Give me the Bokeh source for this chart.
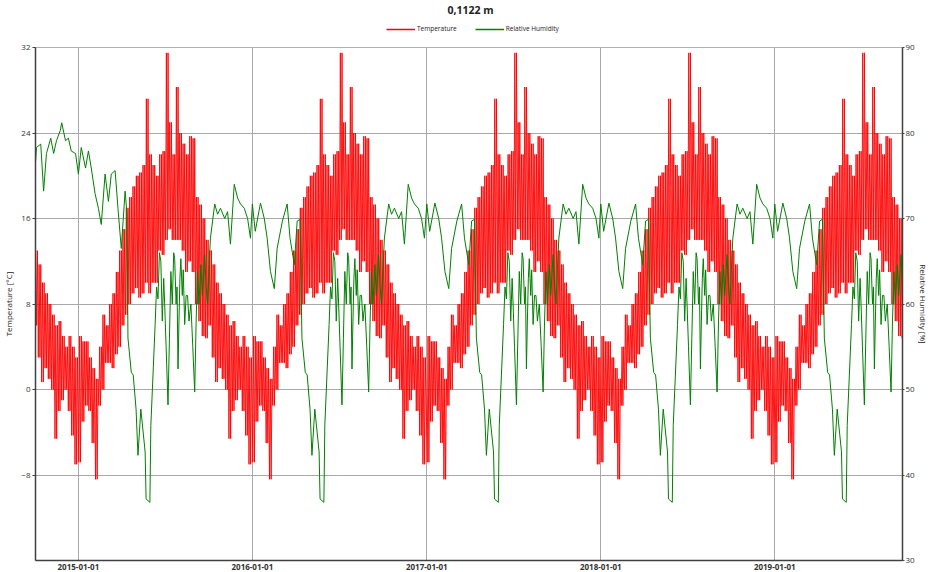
import datetime as dt
from bokeh.plotting import figure
from bokeh.layouts import column
from bokeh.models import (Range1d, LinearAxis, FixedTicker, DatetimeTickFormatter,
                          Legend, LegendItem)
from bokeh.embed import file_html
from bokeh.resources import INLINE

chart_title = "0,1122 m"
series_names = ["Temperature", "Relative Humidity"]
series_colors = ["#ff0000", "#008000"]
x_start = dt.datetime(2014, 10, 3)
x_end = dt.datetime(2019, 9, 26)
tick_years = [2015, 2016, 2017, 2018, 2019]
temp_ticks = [-8, 0, 8, 16, 24, 32]
rh_ticks = [30, 40, 50, 60, 70, 80, 90]

# weekly low / high temperature envelope (deg C) read from one repeating year
temp_week_lo = [-6.8, -3, -1.5, -2, -5, -8.4, -1.5, 0, 2.5, 2.5, 2, 3.3, 4,
                6, 7, 8, 9, 9.5, 8.6, 9, 10, 9, 10, 10, 13, 12.6,
                14, 15, 14, 14, 14, 13, 11, 12, 11, 8, 6.4, 5, 4.8,
                6, 3, 0.7, 2, 1, 0, -4.6, -2, -1, 0, -2, -4.3, -7]
temp_week_hi = [5, 4.5, 4.5, 3, 2, 1, 4, 7, 6, 8, 9, 11, 13,
                15, 17, 18, 19, 20, 20.3, 21, 27.2, 22, 21, 20, 22, 22.3,
                31.5, 25, 22, 28.3, 24, 23, 22, 23.7, 23.5, 18, 17.3, 16, 14,
                13, 11.7, 10, 9, 8, 7, 6, 6.4, 5, 4, 5, 4, 3]

# relative humidity (%) for one repeating year: day of year, value
rh_profile_day = [0, 6, 17, 25, 31, 38, 46, 52, 63, 73, 79, 88, 94, 100,
                  104, 111, 115, 121, 125, 131, 140, 142, 150, 152, 161, 164,
                  167, 170, 173, 176, 179, 181, 184, 188, 191, 194, 197, 200,
                  202, 205, 207, 209, 211, 213, 215, 218, 220, 223, 226, 229,
                  232, 236, 240, 244, 247, 250, 253, 257, 260, 265, 268, 271,
                  274, 277, 286, 292, 298, 307, 313, 319, 327, 334, 340, 348,
                  355, 361]
rh_profile_val = [71.7, 68.5, 71.8, 70, 67.7, 63.8, 61.8, 66.5, 69.7, 71.7,
                  67.7, 64.6, 69.7, 69.9, 56, 52, 51.7, 47.7, 42.3, 47.7, 42.7,
                  37.2, 36.8, 45.8, 57.6, 62, 60.6, 66, 65, 58, 63, 60, 55,
                  48.2, 56, 63.8, 60, 66, 65.3, 60, 62, 52.4, 58, 63, 65.3, 61,
                  64, 57.6, 61, 61, 58, 60, 55, 49.7, 58, 63.8, 60, 64.6, 61,
                  65.8, 62, 60, 64, 67.7, 71.7, 70.5, 71.2, 70, 70.8, 67, 74,
                  72.4, 71.7, 71.2, 70, 67.7]

# relative humidity at the start of the record: days from 2015-01-01, value
rh_start_day = [-90, -88, -79, -73, -67, -58, -52, -46, -38, -35, -27, -21,
                -15, -6, 0, 6, 15, 21, 27, 35, 42, 48, 56, 63, 69, 77, 83, 90,
                98, 102]
rh_start_val = [76.5, 78.3, 78.7, 73.2, 77.6, 79.4, 77.6, 79.1, 80.3, 81.2,
                79.1, 79.4, 77.9, 77.6, 75.2, 78.3, 75.9, 77.9, 75.9, 72.9,
                71.2, 69.3, 75.2, 72, 75.2, 75.6, 71.2, 66.5, 73.2, 70.5]

# ---- assemble series: the weekly low/high envelope is drawn as a
# ---- fast oscillation between the read low and high of each week
t_x, t_y = [], []
for year in range(2014, 2020):
    base = dt.datetime(year, 1, 1)
    for i in range(len(temp_week_lo)):
        lo, hi = temp_week_lo[i], temp_week_hi[i]
        for off, v in ((0.9, lo), (2.6, hi), (4.4, lo), (6.1, hi)):
            t = base + dt.timedelta(days=7 * i + off)
            if x_start <= t <= x_end:
                t_x.append(t)
                t_y.append(v)

h_x, h_y = [], []
b15 = dt.datetime(2015, 1, 1)
for d, v in zip(rh_start_day, rh_start_val):
    h_x.append(b15 + dt.timedelta(days=d))
    h_y.append(v)
for year in range(2015, 2020):
    base = dt.datetime(year, 1, 1)
    for d, v in zip(rh_profile_day, rh_profile_val):
        if year == 2015 and d < 104:
            continue
        t = base + dt.timedelta(days=d)
        if t <= x_end:
            h_x.append(t)
            h_y.append(v)

FONT = "Open Sans"
W = 931

# ---- header: title + legend (its frame is aligned with the main frame) ----
hdr = figure(width=W, height=38, output_backend="svg", toolbar_location=None,
             x_range=Range1d(0, 1), y_range=Range1d(0, 1),
             x_axis_location=None, y_axis_location=None,
             min_border_left=0, min_border_right=0, min_border_top=9,
             min_border_bottom=0)
hdr.grid.visible = False
hdr.outline_line_color = None
hdr.title.text = chart_title
hdr.title.align = "left"
hdr.title.offset = 412
hdr.title.standoff = 0
hdr.title.text_font = FONT
hdr.title.text_font_size = "10.5px"
hdr.title.text_font_style = "bold"
hdr.title.text_color = "#222222"
lr_t = hdr.line([-2, -1], [-2, -2], color=series_colors[0], line_width=1.5)
lr_h = hdr.line([-2, -1], [-2, -2], color=series_colors[1], line_width=1.5)
legend = Legend(items=[LegendItem(label=series_names[0], renderers=[lr_t]),
                       LegendItem(label=series_names[1], renderers=[lr_h])],
                orientation="horizontal", location=(351, 5),
                label_text_font=FONT, label_text_font_size="6.5px",
                label_text_color="#222222", glyph_width=29, glyph_height=8,
                label_height=8, label_standoff=2, spacing=18, padding=0,
                margin=0, border_line_color=None, background_fill_alpha=0)
hdr.add_layout(legend)

# ---- main plot ----
p = figure(width=W, height=534, x_axis_type="datetime",
           x_range=Range1d(x_start, x_end), y_range=Range1d(-16, 32),
           output_backend="svg", toolbar_location=None,
           min_border_left=0, min_border_right=0, min_border_top=9,
           min_border_bottom=0, background_fill_color="white",
           border_fill_color="white")
p.extra_y_ranges = {"rh": Range1d(30, 90)}

p.line(t_x, t_y, color=series_colors[0], line_width=0.9)
p.line(h_x, h_y, color=series_colors[1], line_width=1, y_range_name="rh")

xa = p.xaxis[0]
xa.ticker = FixedTicker(ticks=[dt.datetime(y, 1, 1).timestamp() * 1000 for y in tick_years])
fmt = "%Y-%m-%d"
xa.formatter = DatetimeTickFormatter(years=fmt, months=fmt, days=fmt, hours=fmt,
                                     minutes=fmt, seconds=fmt, milliseconds=fmt,
                                     microseconds=fmt, minsec=fmt, hourmin=fmt)
ya = p.yaxis[0]
ya.ticker = FixedTicker(ticks=temp_ticks)
ya.axis_label = "Temperature [°C]"

ra = LinearAxis(y_range_name="rh", ticker=FixedTicker(ticks=rh_ticks),
                axis_label="Relative Humidity [%]")
p.add_layout(ra, "right")

for ax in (xa, ya, ra):
    ax.axis_line_color = "#404040"
    ax.axis_line_width = 1.5
    ax.major_tick_line_color = "#404040"
    ax.major_tick_out = 3
    ax.major_tick_in = 0
    ax.minor_tick_out = 0
    ax.minor_tick_in = 0
    ax.major_label_text_font = FONT
    ax.major_label_text_font_size = "8px"
    ax.major_label_text_color = "#333333"
    ax.major_label_standoff = 2
    ax.axis_label_text_font = FONT
    ax.axis_label_text_font_size = "8px"
    ax.axis_label_text_font_style = "normal"
    ax.axis_label_text_color = "#222222"
    ax.axis_label_standoff = 4
xa.major_tick_out = 0
xa.major_label_text_font_style = "bold"
xa.major_label_standoff = 3
ra.major_tick_out = 2
ra.major_label_standoff = 1
ra.axis_label_standoff = 0

p.xgrid.ticker = xa.ticker
p.ygrid.ticker = FixedTicker(ticks=temp_ticks)
p.grid.grid_line_color = "#a8a8a8"
p.grid.grid_line_width = 1
p.outline_line_color = "#b0b0b0"

layout = column(hdr, p, spacing=0)
open("out.html", "w").write(file_html(layout, INLINE))
